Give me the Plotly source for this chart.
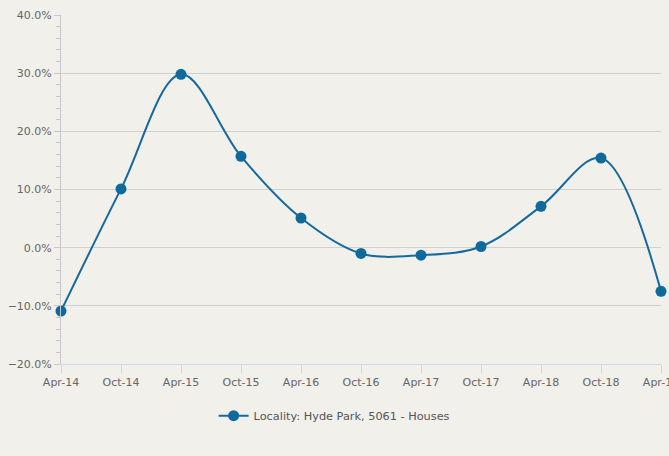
import plotly.graph_objects as go

periods = ["Apr-14", "Oct-14", "Apr-15", "Oct-15", "Apr-16", "Oct-16",
           "Apr-17", "Oct-17", "Apr-18", "Oct-18", "Apr-19"]
growth = [-10.9, 10.1, 29.8, 15.7, 5.1, -1.0, -1.3, 0.2, 7.1, 15.4, -7.5]
series_name = "Locality: Hyde Park, 5061 - Houses"

bg = "#f1f0eb"
grey_text = "#666666"

fig = go.Figure()

fig.add_trace(go.Scatter(
    x=periods,
    y=growth,
    mode="lines+markers",
    name=series_name,
    line=dict(color="#16699c", width=2, shape="spline", smoothing=1),
    marker=dict(color="#0f6a9c", size=11),
    cliponaxis=False,
))

fig.update_layout(
    width=669,
    height=456,
    paper_bgcolor=bg,
    plot_bgcolor=bg,
    margin=dict(l=61, r=8, t=15, b=92),
    font=dict(family="DejaVu Sans", size=11, color=grey_text),
    showlegend=True,
    legend=dict(
        orientation="h",
        x=0.456, xanchor="center",
        y=-0.148, yanchor="middle",
        itemwidth=30,
        font=dict(size=11.3, color="#555555"),
    ),
    xaxis=dict(
        type="category",
        range=[0, 10],
        automargin=False,
        showgrid=False,
        showline=True,
        linecolor="#cfd8e3",
        linewidth=1,
        ticks="outside",
        ticklen=8,
        tickcolor="#cfd8e3",
        zeroline=False,
    ),
    yaxis=dict(
        range=[-20, 40],
        dtick=10,
        automargin=False,
        ticksuffix="%",
        tickformat=".1f",
        showgrid=True,
        gridcolor="#d0d0d0",
        gridwidth=1,
        showline=True,
        linecolor="#c8c8c8",
        ticks="outside",
        ticklen=6,
        tickcolor="#c8c8c8",
        zeroline=False,
        minor=dict(dtick=2, ticks="outside", ticklen=4, tickcolor="#c8c8c8", showgrid=False),
    ),
)

# page body has a default margin; remove it so the chart fills the window
fig.write_html(
    "out.html",
    config={"displayModeBar": False},
    post_script="document.body.style.margin='0';document.body.style.background='#f1f0eb';",
)
